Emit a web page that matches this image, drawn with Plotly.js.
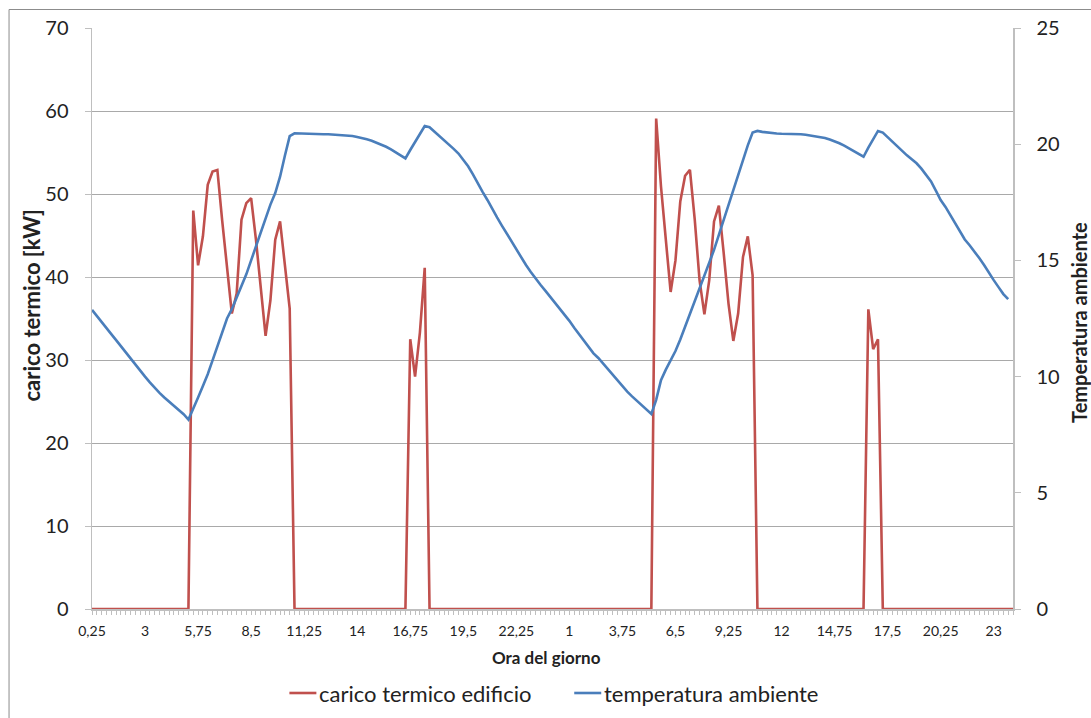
<!DOCTYPE html>
<html>
<head>
<meta charset="utf-8">
<script src="https://cdn.plot.ly/plotly-3.0.1.min.js"></script>
<style>
  html, body { margin: 0; padding: 0; background: #fff; }
  #chart { width: 1091px; height: 718px; }
</style>
</head>
<body>
<div id="chart"></div>
<script>
// Two consecutive days sampled every quarter hour (0,25 ... 24 then 0,25 ... 24)
const hours = Array.from({ length: 192 }, (_, i) => ((i % 96) + 1) * 0.25);

// Category labels shown on the time axis (one every 11 samples)
const tickLabels = ["0,25", "3", "5,75", "8,5", "11,25", "14", "16,75", "19,5", "22,25",
                    "1", "3,75", "6,5", "9,25", "12", "14,75", "17,5", "20,25", "23"];
const tickStep = 11;

// Building heat load [kW]
const caricoTermico = [
  0, 0, 0, 0, 0, 0, 0, 0, 0, 0, 0, 0, 0, 0, 0, 0, 0, 0, 0, 0, 0,
  48.0, 41.4, 44.9, 51.1, 52.7, 52.9, 46.8, 41.5, 35.6, 38.0, 46.9, 48.9, 49.5, 44.5, 38.8,
  32.9, 37.2, 44.5, 46.7, 41.6, 36.2,
  0, 0, 0, 0, 0, 0, 0, 0, 0, 0, 0, 0, 0, 0, 0, 0, 0, 0, 0, 0, 0, 0, 0, 0,
  32.5, 28.0, 33.3, 41.1,
  0, 0, 0, 0, 0, 0, 0, 0, 0, 0, 0, 0, 0, 0, 0, 0, 0, 0, 0, 0, 0, 0, 0, 0,
  0, 0, 0, 0, 0, 0, 0, 0, 0, 0, 0, 0, 0, 0, 0, 0, 0, 0, 0, 0, 0, 0, 0,
  59.1, 50.9, 44.5, 38.2, 42.0, 49.1, 52.2, 52.9, 46.9, 39.6, 35.5, 39.6, 46.7, 48.6, 42.9,
  36.8, 32.3, 35.6, 42.4, 44.9, 40.2,
  0, 0, 0, 0, 0, 0, 0, 0, 0, 0, 0, 0, 0, 0, 0, 0, 0, 0, 0, 0, 0, 0, 0,
  36.1, 31.3, 32.5,
  0, 0, 0, 0, 0, 0, 0, 0, 0, 0, 0, 0, 0, 0, 0, 0, 0, 0, 0, 0, 0, 0, 0, 0, 0, 0, 0, 0
];

// Ambient temperature [°C] (last sample not recorded)
const temperaturaAmbiente = [
  12.87, 12.62, 12.38, 12.10, 11.83, 11.57, 11.30, 11.05, 10.77, 10.50, 10.25, 10.00,
  9.75, 9.50, 9.30, 9.10, 8.92, 8.76, 8.58, 8.38, 8.15,
  8.60, 9.10, 9.60, 10.10, 10.70, 11.30, 11.90, 12.50, 12.90, 13.40, 13.90, 14.40,
  15.00, 15.60, 16.20, 16.80, 17.40, 17.90, 18.60, 19.50, 20.35,
  20.47, 20.46, 20.44, 20.43, 20.43, 20.43, 20.43, 20.43, 20.42, 20.41, 20.40, 20.38,
  20.35, 20.31, 20.27, 20.21, 20.15, 20.07, 19.98, 19.89, 19.78, 19.66, 19.53, 19.39,
  19.75, 20.10, 20.45, 20.78, 20.73, 20.55, 20.35, 20.20, 20.00, 19.80, 19.60, 19.35,
  19.05, 18.70, 18.30, 17.95, 17.60, 17.20, 16.85, 16.50, 16.15, 15.80, 15.45, 15.10,
  14.80, 14.50, 14.20, 13.95, 13.70, 13.45, 13.20, 12.95, 12.65, 12.40, 12.10, 11.82,
  11.55, 11.30, 11.00, 10.80, 10.55, 10.30, 10.05, 9.80, 9.60, 9.35, 9.15, 8.95,
  8.75, 8.55, 8.39,
  9.00, 9.85, 10.30, 10.70, 11.10, 11.60, 12.15, 12.72, 13.25, 13.75, 14.30, 14.85,
  15.45, 16.10, 16.75, 17.40, 18.03, 18.70, 19.25, 19.95, 20.50, 20.57,
  20.53, 20.50, 20.47, 20.46, 20.45, 20.45, 20.44, 20.44, 20.43, 20.41, 20.38, 20.35,
  20.32, 20.27, 20.20, 20.13, 20.04, 19.94, 19.82, 19.70, 19.58, 19.46,
  19.85, 20.20, 20.57, 20.50, 20.30, 20.10, 19.88, 19.70, 19.52, 19.35, 19.18, 18.95,
  18.68, 18.40, 18.00, 17.60, 17.30, 16.95, 16.55, 16.20, 15.90, 15.65, 15.40, 15.10,
  14.80, 14.45, 14.15, 13.85, 13.55, 13.33
];

const sampleIndex = hours.map((_, i) => i);
const tickPositions = tickLabels.map((_, k) => k * tickStep);

const W = 1091, H = 718;
const M = { l: 91.5, r: 78, t: 28, b: 109 };
const plotW = W - M.l - M.r, plotH = H - M.t - M.b;
// pixel -> paper coordinates
const px = x => (x - M.l) / plotW;
const py = y => 1 - (y - M.t) / plotH;

const FONT = "Lato, 'Open Sans', sans-serif";
const TEXT = "#222";
const AXIS = "#BFBFBF";
const GRID = "#A9A9A9";
const RED = "#C0504D";
const BLUE = "#4A7EBB";

const traces = [
  {
    x: sampleIndex,
    y: caricoTermico,
    type: "scatter",
    mode: "lines",
    name: "carico termico edificio",
    line: { color: RED, width: 2.6 },
    yaxis: "y",
    hoverinfo: "skip"
  },
  {
    x: sampleIndex.slice(0, temperaturaAmbiente.length),
    y: temperaturaAmbiente,
    type: "scatter",
    mode: "lines",
    name: "temperatura ambiente",
    line: { color: BLUE, width: 2.6 },
    yaxis: "y2",
    hoverinfo: "skip"
  }
];

// Legend row below the axis title, drawn as line samples + labels
const legendY = 693;
const legendEntries = [
  { trace: traces[0], x: 289 },
  { trace: traces[1], x: 574 }
];
const legendShapes = legendEntries.map(e => ({
  type: "line", xref: "paper", yref: "paper",
  x0: px(e.x), x1: px(e.x + 27), y0: py(legendY), y1: py(legendY),
  line: { color: e.trace.line.color, width: 2.6 }
}));
const legendLabels = legendEntries.map(e => ({
  xref: "paper", yref: "paper",
  x: px(e.x + 28), y: py(legendY),
  xanchor: "left", yanchor: "middle",
  text: e.trace.name, showarrow: false,
  font: { size: 22, family: FONT, color: TEXT }
}));

const titles = [
  {
    xref: "paper", yref: "paper", x: px(546), y: py(657),
    xanchor: "center", yanchor: "middle", showarrow: false,
    text: "<b>Ora del giorno</b>", font: { size: 17, family: FONT, color: TEXT }
  },
  {
    xref: "paper", yref: "paper", x: px(30), y: py(305),
    xanchor: "center", yanchor: "middle", showarrow: false, textangle: -90,
    text: "<b>carico termico [kW]</b>", font: { size: 22, family: FONT, color: TEXT }
  },
  {
    xref: "paper", yref: "paper", x: px(1079), y: py(322),
    xanchor: "center", yanchor: "middle", showarrow: false, textangle: -90,
    text: "<b>Temperatura ambiente</b>", font: { size: 20, family: FONT, color: TEXT }
  }
];

const layout = {
  width: W,
  height: H,
  margin: M,
  paper_bgcolor: "#fff",
  plot_bgcolor: "#fff",
  font: { family: FONT, color: TEXT },
  showlegend: false,
  xaxis: {
    range: [0, 191],
    tickmode: "array",
    tickvals: tickPositions,
    ticktext: tickLabels,
    ticks: "outside",
    ticklen: 4,
    tickcolor: AXIS,
    tickwidth: 1,
    ticklabelstandoff: 5,
    tickfont: { size: 14, family: FONT, color: TEXT },
    showline: true,
    linecolor: AXIS,
    linewidth: 1.5,
    showgrid: false,
    zeroline: false,
    minor: { tickmode: "linear", tick0: 0, dtick: 1, ticks: "outside", ticklen: 4, tickcolor: AXIS, showgrid: false }
  },
  yaxis: {
    range: [0, 70],
    dtick: 10,
    tick0: 0,
    ticks: "outside",
    ticklen: 6,
    tickcolor: AXIS,
    ticklabelstandoff: 12,
    tickfont: { size: 20, family: FONT, color: TEXT },
    showline: true,
    linecolor: AXIS,
    linewidth: 1.5,
    showgrid: true,
    gridcolor: GRID,
    gridwidth: 1,
    zeroline: false
  },
  yaxis2: {
    range: [0, 25],
    dtick: 5,
    tick0: 0,
    overlaying: "y",
    side: "right",
    ticks: "outside",
    ticklen: 6,
    tickcolor: AXIS,
    ticklabelstandoff: 12,
    tickfont: { size: 20, family: FONT, color: TEXT },
    showline: true,
    linecolor: AXIS,
    linewidth: 1.5,
    showgrid: false,
    zeroline: false
  },
  annotations: titles.concat(legendLabels),
  shapes: [
    {
      type: "rect", xref: "paper", yref: "paper",
      x0: px(8.5), x1: px(1100), y0: py(9.5), y1: py(730),
      line: { color: "#8C8C8C", width: 1 }, fillcolor: "rgba(0,0,0,0)", layer: "below"
    }
  ].concat(legendShapes)
};

Plotly.newPlot("chart", traces, layout, { staticPlot: true, displayModeBar: false });
</script>
</body>
</html>
